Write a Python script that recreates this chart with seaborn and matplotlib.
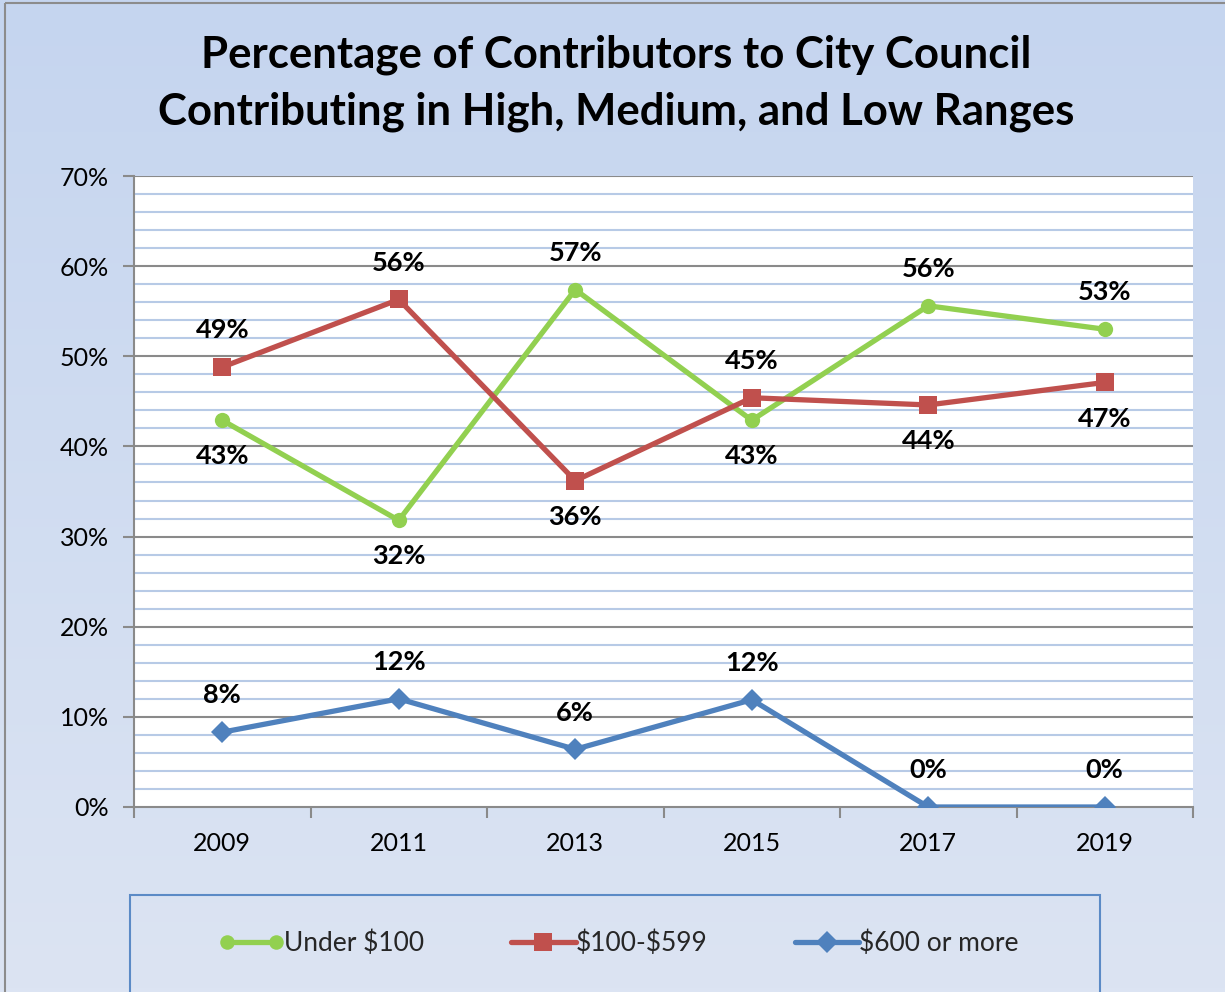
import numpy as np
import pandas as pd
import matplotlib
matplotlib.use("Agg")
import matplotlib.pyplot as plt
import seaborn as sns
from matplotlib.lines import Line2D
from matplotlib.legend_handler import HandlerLine2D
from matplotlib.patches import Rectangle
from matplotlib.ticker import MultipleLocator, FixedLocator, FuncFormatter

years = ["2009", "2011", "2013", "2015", "2017", "2019"]
under_100 = [43, 32, 57, 43, 56, 53]
mid_100_599 = [49, 56, 36, 45, 44, 47]
over_600 = [8, 12, 6, 12, 0, 0]
series_names = ["Under $100", "$100-$599", "$600 or more"]
label_under = ["43%", "32%", "57%", "43%", "56%", "53%"]
label_mid = ["49%", "56%", "36%", "45%", "44%", "47%"]
label_over = ["8%", "12%", "6%", "12%", "0%", "0%"]
# precise plotted positions (values as drawn)
under_plot = [42.9, 31.8, 57.4, 42.9, 55.6, 53.0]
mid_plot = [48.8, 56.3, 36.2, 45.4, 44.6, 47.1]
over_plot = [8.3, 12.0, 6.4, 11.9, 0.0, 0.0]

colors = {"Under $100": "#92D050", "$100-$599": "#C0504D", "$600 or more": "#4F81BD"}
markers = {"Under $100": "o", "$100-$599": "s", "$600 or more": "D"}
msizes = {"Under $100": 11, "$100-$599": 13.5, "$600 or more": 11.5}

sns.set_theme(style="white")
plt.rcParams["font.family"] = ["Lato", "DejaVu Sans"]

rows = []
for name, vals in zip(series_names, [under_plot, mid_plot, over_plot]):
    for i, v in enumerate(vals):
        rows.append({"idx": i, "year": years[i], "value": v, "series": name})
df = pd.DataFrame(rows)

W, H = 1225, 992
fig = plt.figure(figsize=(W / 100, H / 100), dpi=100)

# background gradient
bg = fig.add_axes([0, 0, 1, 1], zorder=-10)
top = np.array([197, 213, 239]) / 255
bot = np.array([220, 228, 243]) / 255
grad = np.linspace(0, 1, 256)[:, None, None]
img = top * (1 - grad) + bot * grad
img = np.repeat(img, 2, axis=1)
bg.imshow(img, aspect="auto", extent=[0, 1, 0, 1], origin="upper")
bg.set_xlim(0, 1); bg.set_ylim(0, 1)
bg.axis("off")
# outer border (left & top)
bg.plot([5 / W, 5 / W], [0, 1 - 3 / H], color="#8C8C8C", lw=1.5, solid_capstyle="butt")
bg.plot([5 / W, 1], [1 - 3 / H, 1 - 3 / H], color="#8C8C8C", lw=1.5, solid_capstyle="butt")
# legend box
bg.add_patch(Rectangle((130 / W, -0.05), (1100 - 130) / W, (992 - 895) / H + 0.05,
                       fill=False, edgecolor="#5B8AC6", lw=1.5))

ax = fig.add_axes([134 / W, (H - 807) / H, (1193 - 134) / W, (807 - 176) / H])
ax.set_facecolor("white")

for name in series_names:
    sub = df[df["series"] == name]
    sns.lineplot(data=sub, x="idx", y="value", ax=ax, color=colors[name],
                 marker=markers[name], markersize=msizes[name], markeredgewidth=0,
                 linewidth=3.8, legend=False, zorder=5)

ax.set_xlim(-0.5, 5.5)
ax.set_ylim(0, 70)
ax.set_xlabel("")
ax.set_ylabel("")

# grid
ax.yaxis.set_major_locator(MultipleLocator(10))
ax.yaxis.set_minor_locator(MultipleLocator(2))
ax.yaxis.set_major_formatter(FuncFormatter(lambda v, p: f"{int(round(v))}%"))
ax.grid(False)
for v in np.arange(2, 70, 2):
    if v % 10 != 0:
        ax.axhline(v, color="#B7CAE6", lw=1.5, zorder=1)
for v in np.arange(10, 71, 10):
    ax.axhline(v, color="#8A8A8A", lw=1.5, zorder=2)

ax.xaxis.set_major_locator(FixedLocator(np.arange(-0.5, 5.6, 1)))
ax.xaxis.set_major_formatter(FuncFormatter(lambda v, p: ""))
ax.xaxis.set_minor_locator(FixedLocator(np.arange(0, 6)))
ax.set_xticklabels(years, minor=True)
ax.tick_params(axis="x", which="major", direction="out", length=8, width=1.5, color="#8A8A8A", bottom=True)
ax.tick_params(axis="x", which="minor", length=0, labelsize=18, pad=18, labelcolor="black")
ax.tick_params(axis="y", which="major", direction="out", length=8, width=1.5, color="#8A8A8A",
               labelsize=18, pad=10, left=True, labelcolor="black")
ax.tick_params(axis="y", which="minor", length=0)

for s in ["top", "right"]:
    ax.spines[s].set_visible(False)
for s in ["left", "bottom"]:
    ax.spines[s].set_color("#8A8A8A")
    ax.spines[s].set_linewidth(1.5)
    ax.spines[s].set_zorder(3)

# data labels
pos_under = ["below", "below", "above", "below", "above", "above"]
pos_mid = ["above", "above", "below", "above", "below", "below"]
pos_over = ["above"] * 6
for vals, labels, poss in [(under_plot, label_under, pos_under),
                           (mid_plot, label_mid, pos_mid),
                           (over_plot, label_over, pos_over)]:
    for i, (v, lab, p) in enumerate(zip(vals, labels, poss)):
        off = 26.5 if p == "above" else -26
        ax.annotate(lab, (i, v), xytext=(0, off), textcoords="offset points",
                    ha="center", va="center", fontsize=19.5, fontweight="bold",
                    color="black", zorder=6)

# title
fig.text(616 / W, 1 - 55 / H, "Percentage of Contributors to City Council",
         ha="center", va="center", fontsize=31.5, fontweight="bold", color="black")
fig.text(616 / W, 1 - 112 / H, "Contributing in High, Medium, and Low Ranges",
         ha="center", va="center", fontsize=31.5, fontweight="bold", color="black")

# legend
handles = [Line2D([], [], color=colors[n], marker=markers[n], markersize=msizes[n] * 0.95,
                  markeredgewidth=0, lw=3.8) for n in series_names]
hmap = {handles[0]: HandlerLine2D(numpoints=2)}
legend_labels = [n.replace("$", r"\$") for n in series_names]
leg = fig.legend(handles, legend_labels, loc="center", ncol=3,
                 bbox_to_anchor=(619 / W, 1 - 943 / H), frameon=False,
                 fontsize=19, handlelength=2.45, handletextpad=0.0, columnspacing=3.3,
                 numpoints=1, handler_map=hmap)

fig.savefig("out.png", dpi=100)
